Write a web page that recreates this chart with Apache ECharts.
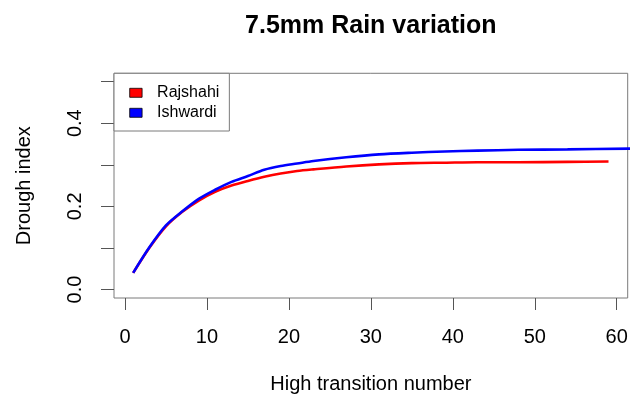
<!DOCTYPE html>
<html>
<head>
<meta charset="utf-8">
<script src="https://cdn.jsdelivr.net/npm/echarts@6/dist/echarts.min.js"></script>
<style>
html,body{margin:0;padding:0;background:#fff;}
#chart{width:640px;height:399px;}
</style>
</head>
<body>
<div id="chart"></div>
<script>
var titleText = '7.5mm Rain variation';
var xAxisTitle = 'High transition number';
var yAxisTitle = 'Drough index';
var seriesNames = ['Rajshahi', 'Ishwardi'];
var seriesColors = ['#ff0000', '#0000ff'];

var xTicks = [0, 10, 20, 30, 40, 50, 60];
var yTicks = [0, 0.1, 0.2, 0.3, 0.4, 0.5];
var yTickLabels = [0, 0.2, 0.4];

var rajshahiX = [1, 3, 5, 7, 9, 11, 13, 15, 17, 19, 21, 23, 27, 31, 35, 39, 43, 48, 54, 59];
var rajshahiY = [0.040, 0.101, 0.152, 0.187, 0.214, 0.235, 0.250, 0.261, 0.271, 0.279, 0.285, 0.289, 0.296, 0.301, 0.304, 0.305, 0.306, 0.306, 0.307, 0.308];
var ishwardiX = [1, 3, 5, 7, 9, 11, 13, 15, 17, 19, 21, 23, 27, 31, 35, 39, 43, 48, 54, 62];
var ishwardiY = [0.040, 0.102, 0.154, 0.188, 0.218, 0.240, 0.259, 0.273, 0.288, 0.297, 0.303, 0.309, 0.318, 0.325, 0.329, 0.332, 0.334, 0.336, 0.337, 0.339];

function pairs(xs, ys) { return xs.map(function (x, i) { return [x, ys[i]]; }); }

var FONT = '"Liberation Sans", Arial, sans-serif';
var chart = echarts.init(document.getElementById('chart'), null, {renderer: 'canvas'});
chart.setOption({
  backgroundColor: '#ffffff',
  animation: false,
  title: {
    text: titleText,
    left: 370.8, textAlign: 'center', top: 14, padding: 0,
    textStyle: {fontFamily: FONT, fontSize: 25, fontWeight: 'bold', color: '#000'}
  },
  grid: {left: 114, top: 73.3, right: 12.3, bottom: 97.7, show: true, borderColor: '#7a7a7a', borderWidth: 1, backgroundColor: 'transparent'},
  legend: {
    orient: 'vertical', left: 114, top: 73.3,
    padding: [11.5, 10, 10.2, 15.3],
    borderColor: '#7a7a7a', borderWidth: 1, backgroundColor: '#fff',
    itemWidth: 12.4, itemHeight: 9, itemGap: 4,
    icon: 'rect',
    textStyle: {fontFamily: FONT, fontSize: 16, color: '#000', padding: [0, 0, 0, 10]},
    data: seriesNames.map(function (n, i) { return {name: n, itemStyle: {color: seriesColors[i], borderColor: '#000', borderWidth: 0.8}}; })
  },
  xAxis: {
    type: 'value', min: -1.34, max: 61.34,
    name: xAxisTitle, nameLocation: 'middle', nameGap: 76,
    nameTextStyle: {fontFamily: FONT, fontSize: 20, color: '#000'},
    axisLine: {show: false, onZero: false},
    axisTick: {show: true, length: 12, inside: false, customValues: xTicks, lineStyle: {color: '#555', width: 1}},
    axisLabel: {customValues: xTicks, margin: 29, fontFamily: FONT, fontSize: 20, color: '#000'},
    splitLine: {show: false}
  },
  yAxis: {
    type: 'value', min: -0.0204, max: 0.52,
    name: yAxisTitle, nameLocation: 'middle', nameGap: 80, nameRotate: 90,
    nameTextStyle: {fontFamily: FONT, fontSize: 20, color: '#000'},
    axisLine: {show: false, onZero: false},
    axisTick: {show: true, length: 13, inside: false, customValues: yTicks, lineStyle: {color: '#555', width: 1}},
    axisLabel: {customValues: yTickLabels, rotate: 90, margin: 29, fontFamily: FONT, fontSize: 20, color: '#000',
      formatter: function (v) { return v.toFixed(1); }},
    splitLine: {show: false}
  },
  series: [
    {name: seriesNames[0], type: 'line', data: pairs(rajshahiX, rajshahiY), showSymbol: false, smooth: 0.3,
      lineStyle: {color: seriesColors[0], width: 2.6}, itemStyle: {color: seriesColors[0]}, clip: true},
    {name: seriesNames[1], type: 'line', data: pairs(ishwardiX, ishwardiY), showSymbol: false, smooth: 0.3,
      lineStyle: {color: seriesColors[1], width: 2.6}, itemStyle: {color: seriesColors[1]}, clip: true}
  ]
});
</script>
</body>
</html>
